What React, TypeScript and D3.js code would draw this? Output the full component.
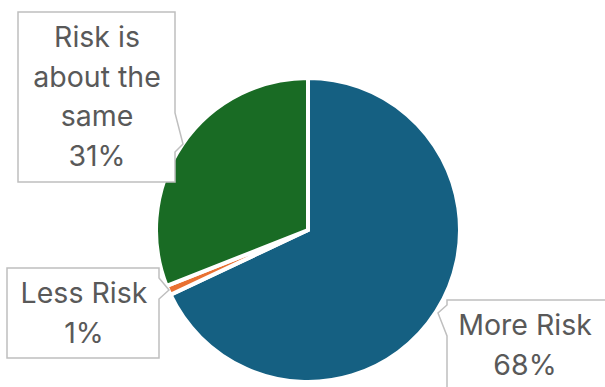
import React from "react";
import * as d3 from "d3";

const categories = ["More Risk", "Less Risk", "Risk is about the same"];
const values = [68, 1, 31];
const colors = ["#156082", "#E97132", "#196B24"];
const labelLines = [
  ["More Risk", "68%"],
  ["Less Risk", "1%"],
  ["Risk is", "about the", "same", "31%"],
];

const W = 605;
const H = 387;
const cx = 308;
const cy = 230;
const R = 152;

type Box = { x0: number; y0: number; x1: number; y1: number; side: "left" | "right"; t0: number; tip: [number, number]; t1: number; tx: number; ty: number };

const boxes: Box[] = [
  { x0: 447, y0: 300, x1: 612, y1: 398, side: "left", t0: 305, tip: [438, 313], t1: 336, tx: 525, ty: 335 },
  { x0: 7, y0: 268, x1: 159, y1: 358, side: "right", t0: 278, tip: [169, 290], t1: 299, tx: 84, ty: 303 },
  { x0: 18, y0: 12, x1: 175, y1: 182, side: "right", t0: 113, tip: [183, 144], t1: 152, tx: 97, ty: 47 },
];

function calloutPath(b: Box): string {
  const p = d3.path();
  p.moveTo(b.x0, b.y0);
  p.lineTo(b.x1, b.y0);
  if (b.side === "right") {
    p.lineTo(b.x1, b.t0);
    p.lineTo(b.tip[0], b.tip[1]);
    p.lineTo(b.x1, b.t1);
  }
  p.lineTo(b.x1, b.y1);
  p.lineTo(b.x0, b.y1);
  if (b.side === "left") {
    p.lineTo(b.x0, b.t1);
    p.lineTo(b.tip[0], b.tip[1]);
    p.lineTo(b.x0, b.t0);
  }
  p.closePath();
  return p.toString();
}

export default function App() {
  const pie = d3.pie<number>().sort(null).value((d) => d);
  const arcs = pie(values);
  const arc = d3.arc<d3.PieArcDatum<number>>().innerRadius(0).outerRadius(R);
  const lineH = 39.5;
  return (
    <svg width={W} height={H} style={{ position: "absolute", left: 0, top: 0, background: "#fff" }}>
      <rect x={0} y={0} width={W} height={H} fill="#fff" />
      <g transform={`translate(${cx},${cy})`}>
        {arcs.map((a, i) => (
          <path key={categories[i]} d={arc(a) || ""} fill={colors[i]} stroke="#fff" strokeWidth={4} strokeLinejoin="miter" />
        ))}
      </g>
      {boxes.map((b, i) => (
        <g key={categories[i]}>
          <path d={calloutPath(b)} fill="#fff" stroke="#BFBFBF" strokeWidth={1.5} />
          <text
            x={b.tx}
            y={b.ty}
            textAnchor="middle"
            fill="#595959"
            style={{ fontFamily: "Inter, 'Noto Sans', sans-serif", fontSize: 28.5 }}
          >
            {labelLines[i].map((l, j) => (
              <tspan key={j} x={b.tx} y={b.ty + j * lineH}>
                {l}
              </tspan>
            ))}
          </text>
        </g>
      ))}
    </svg>
  );
}
